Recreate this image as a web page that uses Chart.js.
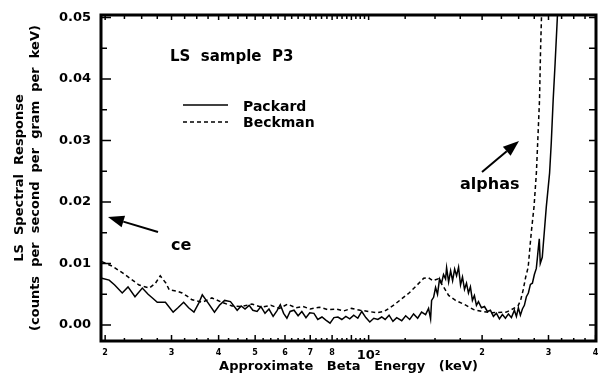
<!DOCTYPE html>
<html>
<head>
<meta charset="utf-8">
<script src="https://cdn.jsdelivr.net/npm/chart.js@4.4.1/dist/chart.umd.min.js"></script>
<style>
  html, body { margin: 0; padding: 0; background: #fff; }
  #wrap { width: 598px; height: 383px; position: relative; }
</style>
</head>
<body>
<div id="wrap"><canvas id="lsChart"></canvas></div>
<script>
// LS spectral response, sample P3

const packardEnergy = [
  19.6, 20.5, 21.2, 22.2, 23.0, 24.0, 25.1, 26.0, 26.7, 27.5, 28.9, 30.3, 31.2, 32.3, 33.3, 34.4,
  35.4, 36.2, 37.5, 39.0, 40.2, 41.5, 43.0, 44.8, 45.9, 47.0, 48.2, 49.3, 50.6, 51.8, 53.1, 54.4,
  55.8, 57.1, 58.3, 59.5, 60.7, 61.9, 63.4, 65.0, 66.5, 68.2, 69.8, 71.6, 73.3, 75.2, 77.0, 79.0,
  80.9, 82.9, 84.9, 87.0, 89.1, 91.3, 93.6, 95.9, 98.3, 100.7, 103.2, 105.8, 108.3, 110.6, 113.3, 116.0,
  118.7, 122.4, 125.4, 128.5, 131.6, 134.9, 138.2, 141.6, 144.2, 146.0, 146.9, 148.7, 150.5, 152.3, 154.2, 156.1,
  158.0, 160.0, 161.0, 163.0, 165.0, 167.0, 169.1, 171.1, 173.2, 175.3, 177.4, 179.6, 181.8, 184.0, 186.2, 188.5,
  190.8, 193.2, 195.6, 199.2, 202.9, 206.6, 210.4, 214.3, 218.3, 222.3, 226.4, 230.6, 234.9, 239.2, 243.6, 246.6,
  249.6, 252.7, 255.8, 258.9, 262.1, 265.3, 268.6, 271.9, 275.2, 278.5, 280.2, 281.9, 283.6, 285.3, 288.8, 292.3,
  296.0, 299.6, 302.0, 305.1, 308.7, 312.4, 315.8, 317.0
];
const packardRate = [
  .0076, .0073, .0065, .0052, .0062, .0046, .0060, .0050, .0044, .0037, .0037, .0021, .0028, .0037, .0028, .0021,
  .0035, .0049, .0036, .0021, .0032, .0040, .0038, .0024, .0031, .0026, .0032, .0024, .0022, .0030, .0019, .0026,
  .0014, .0023, .0033, .0019, .0011, .0022, .0024, .0015, .0022, .0012, .0020, .0019, .0009, .0013, .0008, .0003,
  .0012, .0013, .0009, .0014, .0010, .0016, .0011, .0022, .0012, .0005, .0011, .0009, .0013, .0009, .0016, .0006,
  .0012, .0007, .0015, .0009, .0018, .0011, .0021, .0017, .0027, .0010, .0040, .0045, .0061, .0050, .0075, .0068,
  .0082, .0075, .0093, .0070, .0088, .0072, .0091, .0080, .0094, .0065, .0078, .0058, .0068, .0052, .0062, .0040,
  .0048, .0032, .0038, .0028, .0030, .0022, .0024, .0014, .0019, .0010, .0017, .0011, .0018, .0012, .0024, .0014,
  .0028, .0016, .0026, .0032, .0046, .0052, .0066, .0068, .0082, .0092, .0108, .0125, .0140, .0100, .0110, .0150,
  .0192, .0225, .0247, .0296, .0366, .0426, .0485, .0506
];

const beckmanEnergy = [
  19.6, 21.0, 22.2, 23.4, 24.6, 26.2, 27.2, 28.0, 29.0, 29.6, 31.0, 32.0, 33.0, 34.0, 36.2, 38.4,
  40.8, 43.4, 46.0, 49.0, 52.0, 55.0, 58.0, 61.0, 64.0, 67.0, 70.0, 74.0, 78.0, 82.0, 86.0, 90.0,
  95.0, 100.0, 105.0, 110.0, 117.0, 122.0, 128.0, 134.0, 140.0, 144.0, 148.0, 153.0, 158.0, 163.0, 170.0, 180.0,
  190.0, 200.0, 212.0, 232.0, 241.0, 249.0, 253.0, 257.0, 261.0, 265.0, 270.0, 274.6, 278.6, 281.0, 284.0, 285.8,
  287.6
];
const beckmanRate = [
  .0103, .0095, .0085, .0075, .0065, .0060, .0068, .0080, .0068, .0057, .0055, .0052, .0047, .0041, .0037, .0044,
  .0037, .0031, .0030, .0034, .0029, .0032, .0027, .0034, .0028, .0030, .0026, .0029, .0025, .0026, .0023, .0027,
  .0024, .0022, .0020, .0022, .0033, .0042, .0052, .0064, .0076, .0077, .0072, .0075, .0062, .0048, .0040, .0033,
  .0025, .0022, .0020, .0021, .0026, .0031, .0040, .0057, .0078, .0094, .0150, .0192, .0247, .0300, .0366, .0447,
  .0506
];

const xTickValues = [20, 30, 40, 50, 60, 70, 80, 90, 100, 200, 300, 400];
const xTickLabels = ['2', '3', '4', '5', '6', '7', '8', '', '10²', '2', '3', '4'];
const yTickValues = [0, 0.01, 0.02, 0.03, 0.04, 0.05];

const FONT = "'DejaVu Sans', sans-serif";
Chart.defaults.font.family = FONT;
Chart.defaults.color = '#000';

// minor tick positions (2.5 keV steps below 100, 25 keV steps above)
const xMinor = [];
for (let d = 20; d < 100; d += 10) [2.5, 5, 7.5].forEach(o => xMinor.push(d + o));
for (let d = 100; d < 400; d += 100) [25, 50, 75].forEach(o => xMinor.push(d + o));

const frame = {
  id: 'frame',
  afterDatasetsDraw(chart) {
    const { ctx, chartArea: a, scales: { x, y } } = chart;
    ctx.save();
    ctx.strokeStyle = '#000';
    ctx.lineWidth = 1.5;
    ctx.beginPath();
    xTickValues.forEach(v => {
      const px = x.getPixelForValue(v);
      ctx.moveTo(px, a.bottom); ctx.lineTo(px, a.bottom - 6);
      ctx.moveTo(px, a.top); ctx.lineTo(px, a.top + 5);
    });
    xMinor.forEach(v => {
      const px = x.getPixelForValue(v);
      ctx.moveTo(px, a.bottom); ctx.lineTo(px, a.bottom - 3);
      ctx.moveTo(px, a.top); ctx.lineTo(px, a.top + 4);
    });
    for (let i = 0; i <= 10; i++) {
      const py = y.getPixelForValue(i * 0.005);
      const major = i % 2 === 0;
      ctx.moveTo(a.left, py); ctx.lineTo(a.left + (major ? 10 : 6), py);
      ctx.moveTo(a.right, py); ctx.lineTo(a.right - 7, py);
    }
    ctx.stroke();

    ctx.lineWidth = 3;
    ctx.strokeRect(a.left, a.top, a.right - a.left, a.bottom - a.top);

    // title and legend
    ctx.fillStyle = '#000';
    ctx.textBaseline = 'middle';
    ctx.textAlign = 'left';
    ctx.font = 'bold 15px ' + FONT;
    ctx.fillText('LS  sample  P3', 170, 57);

    ctx.font = 'bold 14px ' + FONT;
    ctx.fillText('Packard', 243, 107);
    ctx.fillText('Beckman', 243, 123);
    ctx.lineWidth = 1.5;
    ctx.beginPath();
    ctx.moveTo(183, 105); ctx.lineTo(228, 105);
    ctx.stroke();
    ctx.setLineDash([4, 3]);
    ctx.beginPath();
    ctx.moveTo(183, 122); ctx.lineTo(228, 122);
    ctx.stroke();
    ctx.setLineDash([]);

    // annotations
    ctx.font = 'bold 16px ' + FONT;
    ctx.fillText('ce', 171, 246);
    ctx.fillText('alphas', 460, 185);
    arrow(ctx, 158, 232, 108, 217);
    arrow(ctx, 482, 172, 519, 141);
    ctx.restore();
  }
};

function arrow(ctx, x0, y0, x1, y1) {
  const ang = Math.atan2(y1 - y0, x1 - x0);
  const len = 16, half = 6;
  const bx = x1 - len * Math.cos(ang), by = y1 - len * Math.sin(ang);
  ctx.lineWidth = 2;
  ctx.beginPath();
  ctx.moveTo(x0, y0); ctx.lineTo(bx, by);
  ctx.stroke();
  ctx.beginPath();
  ctx.moveTo(x1, y1);
  ctx.lineTo(bx + half * Math.sin(ang), by - half * Math.cos(ang));
  ctx.lineTo(bx - half * Math.sin(ang), by + half * Math.cos(ang));
  ctx.closePath();
  ctx.fill();
}

new Chart(document.getElementById('lsChart'), {
  type: 'line',
  data: {
    datasets: [{
      label: 'Packard',
      data: packardEnergy.map((e, i) => ({ x: e, y: packardRate[i] })),
      borderColor: '#000',
      borderWidth: 1.5,
      pointRadius: 0,
      tension: 0
    }, {
      label: 'Beckman',
      data: beckmanEnergy.map((e, i) => ({ x: e, y: beckmanRate[i] })),
      borderColor: '#000',
      borderWidth: 1.5,
      borderDash: [4, 3],
      pointRadius: 0,
      tension: 0
    }]
  },
  options: {
    responsive: true,
    maintainAspectRatio: false,
    animation: false,
    layout: { padding: { top: 15, right: 2, left: 0, bottom: 0 } },
    plugins: { legend: { display: false }, tooltip: { enabled: false } },
    scales: {
      x: {
        type: 'logarithmic',
        min: 19.5,
        max: 401,
        grid: { display: false, drawTicks: false },
        border: { display: false },
        afterBuildTicks: s => { s.ticks = xTickValues.map(v => ({ value: v })); },
        afterFit: s => { s.height = 42; s.paddingLeft = 0; s.paddingRight = 0; },
        ticks: {
          autoSkip: false,
          maxRotation: 0,
          padding: 7,
          callback: (v) => xTickLabels[xTickValues.indexOf(v)],
          font: c => (c.tick && c.tick.value === 100)
            ? { size: 13, weight: 'bold' }
            : { size: 8, weight: 'bold' }
        },
        title: {
          display: true,
          text: 'Approximate   Beta   Energy   (keV)',
          font: { size: 13, weight: 'bold' },
          padding: { top: 0, bottom: 9 }
        }
      },
      y: {
        min: -0.0026,
        max: 0.0504,
        grid: { display: false, drawTicks: false },
        border: { display: false },
        afterBuildTicks: s => { s.ticks = yTickValues.map(v => ({ value: v })); },
        afterFit: s => { s.width = 101; s.paddingTop = 0; s.paddingBottom = 0; },
        ticks: {
          padding: 10,
          callback: v => v.toFixed(2),
          font: { size: 13, weight: 'bold' }
        },
        title: {
          display: true,
          text: ['LS  Spectral  Response', '(counts  per  second  per  gram  per  keV)'],
          font: { size: 13, weight: 'bold' },
          padding: { top: 12, bottom: 0 }
        }
      }
    }
  },
  plugins: [frame]
});
</script>
</body>
</html>
